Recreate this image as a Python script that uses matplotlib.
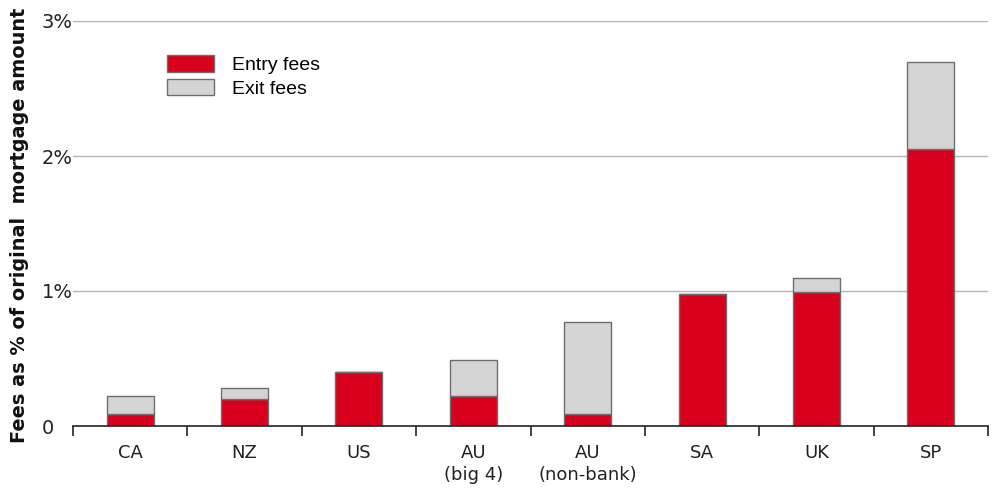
import matplotlib
matplotlib.use("Agg")
import matplotlib.pyplot as plt
from matplotlib.patches import Patch

plt.rcParams["font.family"] = ["DejaVu Sans"]

# data (% of original mortgage amount)
countries = ["CA", "NZ", "US", "AU\n(big 4)", "AU\n(non-bank)", "SA", "UK", "SP"]
entry_fees = [0.09, 0.20, 0.40, 0.22, 0.09, 0.98, 0.99, 2.05]
exit_fees = [0.13, 0.08, 0.0, 0.27, 0.68, 0.0, 0.11, 0.65]
y_ticks = [0, 1, 2, 3]
y_tick_labels = ["0", "1%", "2%", "3%"]

red = "#d8001c"
grey = "#d4d4d4"
edge = "#6e6e6e"

fig = plt.figure(figsize=(9.97, 4.92), dpi=100)
ax = fig.add_axes([73 / 997, 66 / 492, 915 / 997, 405 / 492])

x = list(range(len(countries)))
ax.bar(x, entry_fees, width=0.41, color=red, edgecolor=edge, linewidth=1, zorder=3)
ax.bar(x, exit_fees, width=0.41, bottom=entry_fees, color=grey, edgecolor=edge,
       linewidth=1, zorder=3)

# horizontal gridlines
for y in y_ticks[1:]:
    ax.axhline(y, color="#b4b4b4", linewidth=1, zorder=1)

ax.set_xlim(-0.5, len(countries) - 0.5)
ax.set_ylim(0, 3)

for side in ("top", "right", "left"):
    ax.spines[side].set_visible(False)
ax.spines["bottom"].set_color("#222222")
ax.spines["bottom"].set_linewidth(1.2)
ax.spines["bottom"].set_zorder(4)

# tick marks at category borders, labels at the centres
ax.set_xticks([i - 0.5 for i in range(len(countries) + 1)])
ax.set_xticklabels([])
ax.tick_params(axis="x", which="major", direction="out", length=7, width=1.2,
               color="#222222")
ax.set_xticks(x, minor=True)
ax.set_xticklabels(countries, minor=True, fontsize=13, color="#222222",
                   linespacing=1.3)
ax.tick_params(axis="x", which="minor", length=0, pad=13)

ax.set_yticks(y_ticks)
ax.set_yticklabels(y_tick_labels, fontsize=14, color="#222222")
ax.tick_params(axis="y", length=0, pad=22.5)
for lab in ax.get_yticklabels():
    lab.set_horizontalalignment("left")

fig.text(20 / 997, 1 - 225 / 492, "Fees as % of original  mortgage amount",
         rotation=90, ha="center", va="center", fontsize=13.9,
         fontweight="bold", color="#111111")

handles = [Patch(facecolor=red, edgecolor=edge, linewidth=1),
           Patch(facecolor=grey, edgecolor=edge, linewidth=1)]
ax.legend(handles, ["Entry fees", "Exit fees"], loc="upper left",
          bbox_to_anchor=(0.1027, 0.915), borderaxespad=0, borderpad=0,
          frameon=False, handlelength=2.4, handleheight=0.9, handletextpad=0.95,
          labelspacing=0.25, prop={"family": "Liberation Sans", "size": 14})

fig.savefig("out.png", dpi=100)
